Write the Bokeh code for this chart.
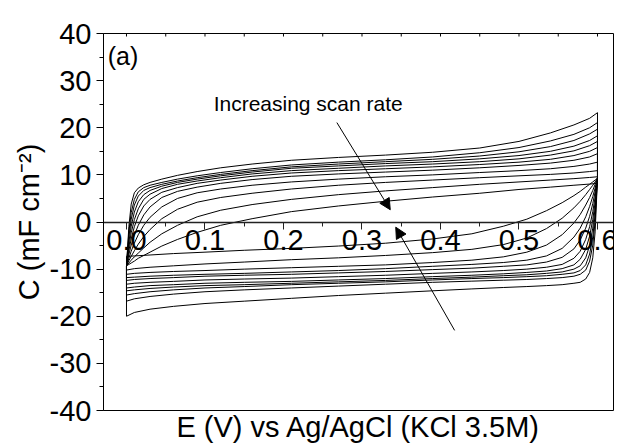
import math
from bokeh.plotting import figure
from bokeh.models import LinearAxis, FixedTicker, Range1d, Label, Arrow, NormalHead, ColumnDataSource
from bokeh.embed import file_html
from bokeh.resources import INLINE

FONT = "Liberation Sans"

# ---- data ----
E_forward = [0.0, 0.003, 0.006, 0.01, 0.015, 0.022, 0.03, 0.045, 0.065, 0.09, 0.12, 0.16, 0.21,
             0.27, 0.33, 0.39, 0.45, 0.5, 0.54, 0.57, 0.59, 0.6]
E_reverse = [0.6, 0.597, 0.594, 0.59, 0.585, 0.578, 0.57, 0.555, 0.535, 0.51, 0.48, 0.44, 0.39,
             0.33, 0.27, 0.21, 0.15, 0.1, 0.06, 0.03, 0.01, 0.0]

# forward (anodic) branches, slowest scan rate first
fwd_1 = [-9.3, -1.0, 3.8, 6.2, 7.2, 7.9, 8.4, 9.1, 9.9, 10.7, 11.5, 12.3, 13.1, 13.7, 14.2, 14.8, 15.7, 17.1, 18.9, 20.6, 22.0, 23.2]
fwd_2 = [-9.3, -2.1, 2.0, 4.8, 6.4, 7.3, 7.8, 8.4, 9.1, 9.8, 10.5, 11.3, 12.1, 12.7, 13.2, 13.8, 14.7, 15.8, 17.2, 18.6, 20.0, 21.1]
fwd_3 = [-9.3, -3.2, 0.6, 3.6, 5.5, 6.7, 7.3, 8.0, 8.7, 9.4, 10.1, 10.9, 11.7, 12.3, 12.8, 13.3, 14.0, 14.9, 16.0, 17.3, 18.7, 19.7]
fwd_4 = [-9.3, -4.3, -0.9, 2.1, 4.3, 5.8, 6.7, 7.6, 8.4, 9.1, 9.8, 10.6, 11.4, 11.9, 12.4, 12.8, 13.4, 14.1, 15.0, 16.1, 17.3, 18.3]
fwd_5 = [-9.3, -5.3, -2.3, 0.5, 2.8, 4.8, 5.9, 7.1, 8.0, 8.7, 9.4, 10.2, 10.9, 11.4, 11.9, 12.3, 12.8, 13.4, 14.2, 15.1, 16.2, 17.1]
fwd_6 = [-9.3, -6.1, -3.6, -1.0, 1.3, 3.4, 4.8, 6.3, 7.3, 8.2, 8.9, 9.7, 10.4, 10.9, 11.3, 11.7, 12.2, 12.7, 13.3, 14.1, 15.0, 15.8]
fwd_7 = [-9.3, -6.9, -4.9, -2.8, -0.7, 1.5, 3.2, 5.2, 6.5, 7.4, 8.2, 9.0, 9.7, 10.2, 10.6, 11.0, 11.5, 12.0, 12.5, 13.1, 13.8, 14.5]
fwd_8 = [-9.3, -7.7, -6.2, -4.5, -2.7, -0.7, 1.0, 3.2, 5.0, 6.2, 7.0, 7.8, 8.5, 9.1, 9.6, 10.0, 10.5, 10.9, 11.3, 11.8, 12.3, 12.7]
fwd_9 = [-9.3, -8.2, -7.3, -6.1, -4.7, -3.1, -1.6, 0.7, 2.7, 4.2, 5.2, 6.1, 7.0, 7.8, 8.4, 8.9, 9.4, 9.8, 10.1, 10.4, 10.7, 10.9]
fwd_10 = [-9.3, -8.7, -8.1, -7.4, -6.6, -5.5, -4.3, -2.5, -0.7, 1.1, 2.5, 3.7, 4.8, 5.8, 6.6, 7.3, 8.0, 8.5, 8.9, 9.2, 9.45, 9.6]
fwd_11 = [-9.3, -9.0, -8.7, -8.3, -7.7, -7.1, -6.4, -5.1, -3.7, -2.2, -0.7, 0.7, 2.2, 3.4, 4.4, 5.3, 6.1, 6.9, 7.4, 7.8, 8.05, 8.2]

# reverse (cathodic) branches, slowest scan rate first
rev_1 = [9.3, -2.1, -7.6, -10.7, -12.1, -12.8, -13.0, -13.3, -13.5, -13.7, -13.9, -14.2, -14.6, -15.1, -15.6, -16.2, -16.8, -17.3, -17.9, -18.5, -19.2, -20.0]
rev_2 = [9.3, 0.2, -4.9, -8.3, -10.2, -11.1, -11.5, -11.8, -12.0, -12.2, -12.35, -12.55, -12.8, -13.2, -13.6, -14.0, -14.4, -14.8, -15.3, -15.8, -16.3, -16.8]
rev_3 = [9.3, 1.6, -3.2, -6.8, -9.1, -10.3, -10.8, -11.1, -11.4, -11.6, -11.8, -12.0, -12.3, -12.7, -13.0, -13.3, -13.7, -14.0, -14.4, -14.8, -15.2, -15.5]
rev_4 = [9.3, 3.0, -1.3, -5.0, -7.6, -9.3, -10.0, -10.6, -10.9, -11.2, -11.4, -11.7, -12.0, -12.4, -12.7, -13.0, -13.3, -13.5, -13.8, -14.1, -14.4, -14.6]
rev_5 = [9.3, 4.2, 0.5, -3.0, -5.8, -7.9, -9.1, -9.9, -10.4, -10.7, -11.0, -11.3, -11.6, -12.0, -12.3, -12.6, -12.8, -13.0, -13.3, -13.5, -13.8, -14.0]
rev_6 = [9.3, 5.3, 2.2, -1.0, -3.7, -6.2, -7.7, -9.0, -9.6, -10.0, -10.3, -10.6, -10.9, -11.3, -11.6, -11.9, -12.1, -12.3, -12.6, -12.8, -13.0, -13.2]
rev_7 = [9.3, 6.4, 3.9, 1.2, -1.3, -3.8, -5.7, -7.5, -8.5, -9.1, -9.4, -9.8, -10.1, -10.5, -10.8, -11.1, -11.3, -11.5, -11.8, -12.0, -12.2, -12.4]
rev_8 = [9.3, 7.2, 5.4, 3.3, 1.1, -1.3, -3.2, -5.6, -7.2, -8.1, -8.6, -9.0, -9.4, -9.9, -10.3, -10.6, -10.9, -11.1, -11.3, -11.5, -11.7, -11.8]
rev_9 = [9.3, 8.0, 6.7, 5.2, 3.6, 1.6, -0.2, -2.7, -4.9, -6.4, -7.4, -8.1, -8.6, -9.1, -9.4, -9.7, -10.0, -10.3, -10.5, -10.7, -10.9, -11.1]
rev_10 = [9.3, 8.5, 7.8, 6.9, 5.8, 4.4, 3.0, 0.8, -1.4, -3.4, -4.8, -5.8, -6.5, -7.1, -7.6, -8.0, -8.5, -8.9, -9.3, -9.6, -9.9, -10.2]
rev_11 = [9.3, 8.9, 8.5, 8.0, 7.4, 6.5, 5.6, 4.1, 2.4, 0.6, -0.9, -2.5, -3.6, -4.5, -5.1, -5.6, -6.0, -6.4, -6.7, -7.0, -7.2, -7.3]

forward_branches = [fwd_1, fwd_2, fwd_3, fwd_4, fwd_5, fwd_6, fwd_7, fwd_8, fwd_9, fwd_10, fwd_11]
reverse_branches = [rev_1, rev_2, rev_3, rev_4, rev_5, rev_6, rev_7, rev_8, rev_9, rev_10, rev_11]

x_ticks = [0.0, 0.1, 0.2, 0.3, 0.4, 0.5, 0.6]
x_tick_labels = ["0.0", "0.1", "0.2", "0.3", "0.4", "0.5", "0.6"]
x_minor_ticks = [0.05, 0.15, 0.25, 0.35, 0.45, 0.55]
y_ticks = [-40, -30, -20, -10, 0, 10, 20, 30, 40]
y_tick_labels = ["-40", "-30", "-20", "-10", "0", "10", "20", "30", "40"]
y_minor_ticks = [-35, -25, -15, -5, 5, 15, 25, 35]

annotation_text = "Increasing scan rate"
annotation_pos = (0.111, 25.1)
panel_label = "(a)"
panel_label_pos = (-0.024, 35.3)
arrow_starts = [(0.268, 21.1), (0.418, -23.0)]
arrow_ends = [(0.336, 2.6), (0.343, -1.1)]
x_label = "E (V) vs Ag/AgCl (KCl 3.5M)"
y_label = "C (mF cm\u207b\u00b2)"

# ---- figure ----
p = figure(width=619, height=445, x_range=Range1d(-0.0293, 0.6204), y_range=Range1d(-40, 40),
           x_axis_location=None, output_backend="svg", toolbar_location=None,
           min_border_left=103, min_border_right=6, min_border_top=33, min_border_bottom=35,
           background_fill_color="white", border_fill_color="white")
p.grid.visible = False
p.outline_line_color = "black"
p.outline_line_width = 1
p.outline_line_alpha = 1.0

# curves (one closed loop per scan rate)
xs, ys = [], []
for f, r in zip(forward_branches, reverse_branches):
    xs.append(E_forward + E_reverse + [E_forward[0]])
    ys.append(f + r + [f[0]])
p.multi_line(xs="xs", ys="ys", source=ColumnDataSource(dict(xs=xs, ys=ys)),
             line_color="black", line_width=1)

# inward ticks on the top edge of the frame
top_tick_x = x_ticks + x_minor_ticks
p.scatter(x=top_tick_x, y=[y_ticks[-1]] * len(top_tick_x), marker="dash", angle=math.pi / 2,
          size=6, line_color="black", line_width=1)

# left axis
ya = p.yaxis[0]
ya.ticker = FixedTicker(ticks=y_ticks, minor_ticks=y_minor_ticks)
ya.major_label_overrides = {t: l for t, l in zip(y_ticks, y_tick_labels)}
ya.major_tick_out = 7
ya.major_tick_in = 0
ya.minor_tick_out = 4
ya.minor_tick_in = 0
ya.major_label_standoff = 5
ya.major_label_text_font = FONT
ya.major_label_text_font_size = "29px"
ya.major_label_text_color = "black"
ya.axis_line_color = "black"
ya.major_tick_line_color = "black"
ya.minor_tick_line_color = "black"
ya.axis_label = y_label
ya.axis_label_text_font = FONT
ya.axis_label_text_font_size = "29px"
ya.axis_label_text_font_style = "normal"
ya.axis_label_text_color = "black"
ya.axis_label_standoff = 2

# x axis drawn at C = 0
zero_axis = LinearAxis(fixed_location=0,
                       ticker=FixedTicker(ticks=x_ticks, minor_ticks=x_minor_ticks),
                       major_label_overrides={t: l for t, l in zip(x_ticks, x_tick_labels)},
                       major_tick_out=7, major_tick_in=0, minor_tick_out=4, minor_tick_in=0,
                       major_label_standoff=1,
                       major_label_text_font=FONT, major_label_text_font_size="29px",
                       major_label_text_color="black",
                       axis_line_color="#222222", axis_line_width=1.6,
                       major_tick_line_color="#222222", minor_tick_line_color="#222222")
p.add_layout(zero_axis, "below")

# x axis title below the frame (axis without ticks)
title_axis = LinearAxis(ticker=FixedTicker(ticks=[]), axis_line_color=None,
                        major_tick_out=0, major_tick_in=0, minor_tick_out=0, minor_tick_in=0,
                        major_label_standoff=0,
                        axis_label=x_label, axis_label_standoff=0,
                        axis_label_text_font=FONT, axis_label_text_font_size="29px",
                        axis_label_text_font_style="normal", axis_label_text_color="black")
p.add_layout(title_axis, "below")

# annotations
p.add_layout(Label(x=annotation_pos[0], y=annotation_pos[1], text=annotation_text,
                   text_align="left", text_baseline="middle",
                   text_font=FONT, text_font_size="21px", text_color="black"))
p.add_layout(Label(x=panel_label_pos[0], y=panel_label_pos[1], text=panel_label,
                   text_align="left", text_baseline="middle",
                   text_font=FONT, text_font_size="25px", text_color="black"))
for (x0, y0), (x1, y1) in zip(arrow_starts, arrow_ends):
    p.add_layout(Arrow(x_start=x0, y_start=y0, x_end=x1, y_end=y1, line_color="black", line_width=1,
                       end=NormalHead(size=11, fill_color="black", line_color="black")))

open("out.html", "w").write(file_html(p, INLINE))
